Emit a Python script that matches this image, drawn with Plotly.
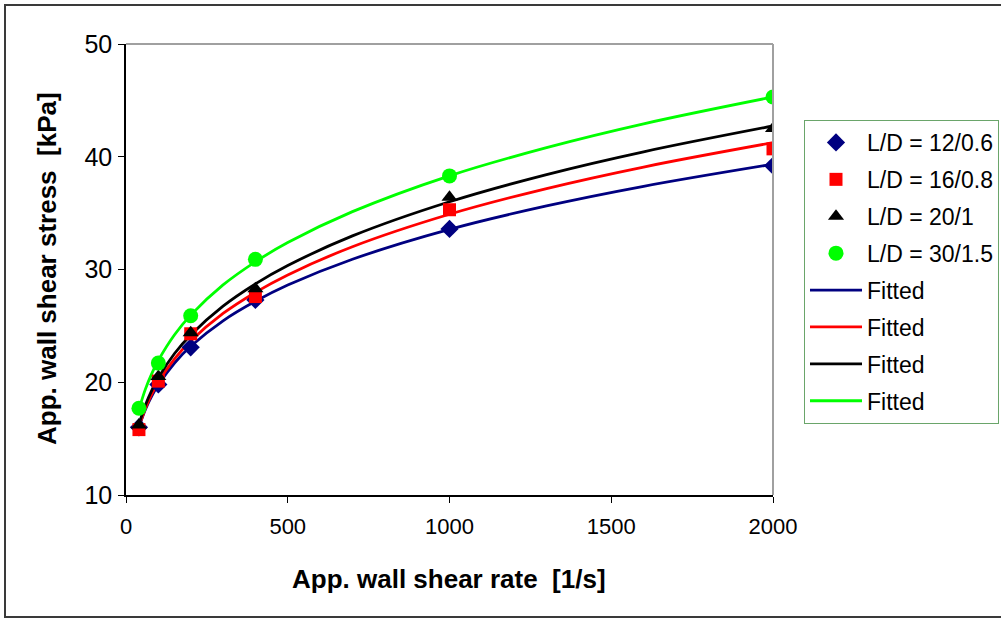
import plotly.graph_objects as go

# Measured data points
shear_rate = [40, 100, 200, 400, 1000, 2000]
ld_12_06 = [16.0, 19.8, 23.1, 27.3, 33.6, 39.2]
ld_16_08 = [15.8, 20.1, 24.3, 27.6, 35.3, 40.7]
ld_20_1 = [16.2, 20.5, 24.4, 28.3, 36.4, 42.5]
ld_30_15 = [17.7, 21.7, 25.9, 30.9, 38.3, 45.3]

# Fitted curves
fit_rate = [40, 60, 80, 100, 150, 200, 300, 400, 500, 700, 1000, 1300, 1600, 2000]
fit_12_06 = [16.02, 17.59, 18.79, 19.77, 21.71, 23.19, 25.45, 27.18, 28.62, 30.91, 33.56, 35.64, 37.38, 39.34]
fit_16_08 = [16.04, 17.69, 18.97, 20.02, 22.08, 23.66, 26.10, 27.97, 29.52, 32.02, 34.90, 37.18, 39.09, 41.25]
fit_20_1 = [16.27, 17.98, 19.31, 20.40, 22.55, 24.20, 26.75, 28.72, 30.35, 32.98, 36.01, 38.42, 40.44, 42.73]
fit_30_15 = [17.58, 19.39, 20.79, 21.94, 24.21, 25.95, 28.63, 30.68, 32.39, 35.13, 38.31, 40.81, 42.92, 45.30]

x_ticks = [0, 500, 1000, 1500, 2000]
y_ticks = [10, 20, 30, 40, 50]

NAVY, RED, BLACK, GREEN = "#000080", "#FF0000", "#000000", "#00FF00"
FONT = "Liberation Sans, Arial, sans-serif"

fig = go.Figure()

fits = [(fit_12_06, NAVY), (fit_16_08, RED), (fit_20_1, BLACK), (fit_30_15, GREEN)]
for i, (vals, col) in enumerate(fits):
    fig.add_trace(go.Scatter(x=fit_rate, y=vals, mode="lines", name="Fitted",
                             line=dict(color=col, width=2.8, shape="spline"),
                             legendgroup=f"f{i}", legendrank=10 + i))

points = [(ld_12_06, "L/D = 12/0.6", NAVY, "diamond", 14),
          (ld_16_08, "L/D = 16/0.8", RED, "square", 13),
          (ld_20_1, "L/D = 20/1", BLACK, "triangle-up", 14),
          (ld_30_15, "L/D = 30/1.5", GREEN, "circle", 15)]
for i, (vals, name, col, sym, sz) in enumerate(points):
    fig.add_trace(go.Scatter(x=shear_rate, y=vals, mode="markers", name=name,
                             marker=dict(color=col, symbol=sym, size=sz, line=dict(width=0)),
                             legendgroup=f"m{i}", legendrank=1 + i))

fig.update_layout(
    width=1001, height=619,
    margin=dict(l=126, r=228, t=44, b=124, autoexpand=False),
    paper_bgcolor="white", plot_bgcolor="white",
    font=dict(family=FONT, size=22, color="#000"),
    showlegend=True,
    legend=dict(x=(804 - 126) / 647, y=(495 - 120) / 451, xanchor="left", yanchor="top",
                bgcolor="white", bordercolor="#6aa56a", borderwidth=1,
                font=dict(family=FONT, size=23, color="#000"),
                tracegroupgap=4, itemwidth=52),
    xaxis=dict(range=[0, 2000], tickvals=x_ticks, showgrid=False, zeroline=False,
               showline=True, linecolor="#000", linewidth=1.5,
               ticks="outside", ticklen=6, tickcolor="#000", ticklabelstandoff=5,
               tickfont=dict(family=FONT, size=22, color="#000")),
    yaxis=dict(range=[10, 50], tickvals=y_ticks, showgrid=False, zeroline=False,
               showline=True, linecolor="#000", linewidth=1.5,
               ticks="outside", ticklen=6, tickcolor="#000", ticklabelstandoff=1,
               tickfont=dict(family=FONT, size=25, color="#000")),
)

# Plot area border (top and right, gray)
fig.add_shape(type="line", xref="paper", yref="paper", x0=0, x1=1, y0=1, y1=1,
              line=dict(color="#a0a0a0", width=2))
fig.add_shape(type="line", xref="paper", yref="paper", x0=1, x1=1, y0=0, y1=1,
              line=dict(color="#a0a0a0", width=2))
# Outer chart border
fig.add_shape(type="rect", xref="paper", yref="paper",
              x0=(5 - 126) / 647, x1=(1040 - 126) / 647,
              y0=(495 - 617) / 451, y1=(495 - 5) / 451,
              line=dict(color="#3a3a3a", width=2), layer="below")

# Axis titles
fig.add_annotation(text="<b>App. wall shear rate  [1/s]</b>", xref="paper", yref="paper",
                   x=(449 - 126) / 647, y=(495 - 579) / 451, showarrow=False,
                   xanchor="center", yanchor="middle",
                   font=dict(family=FONT, size=26, color="#000"))
fig.add_annotation(text="<b>App. wall shear stress  [kPa]</b>", xref="paper", yref="paper",
                   x=(47 - 126) / 647, y=(495 - 269) / 451, showarrow=False, textangle=-90,
                   xanchor="center", yanchor="middle",
                   font=dict(family=FONT, size=26, color="#000"))

fig.write_html("out.html", post_script="document.body.style.margin='0';",
               config={"displayModeBar": False})
